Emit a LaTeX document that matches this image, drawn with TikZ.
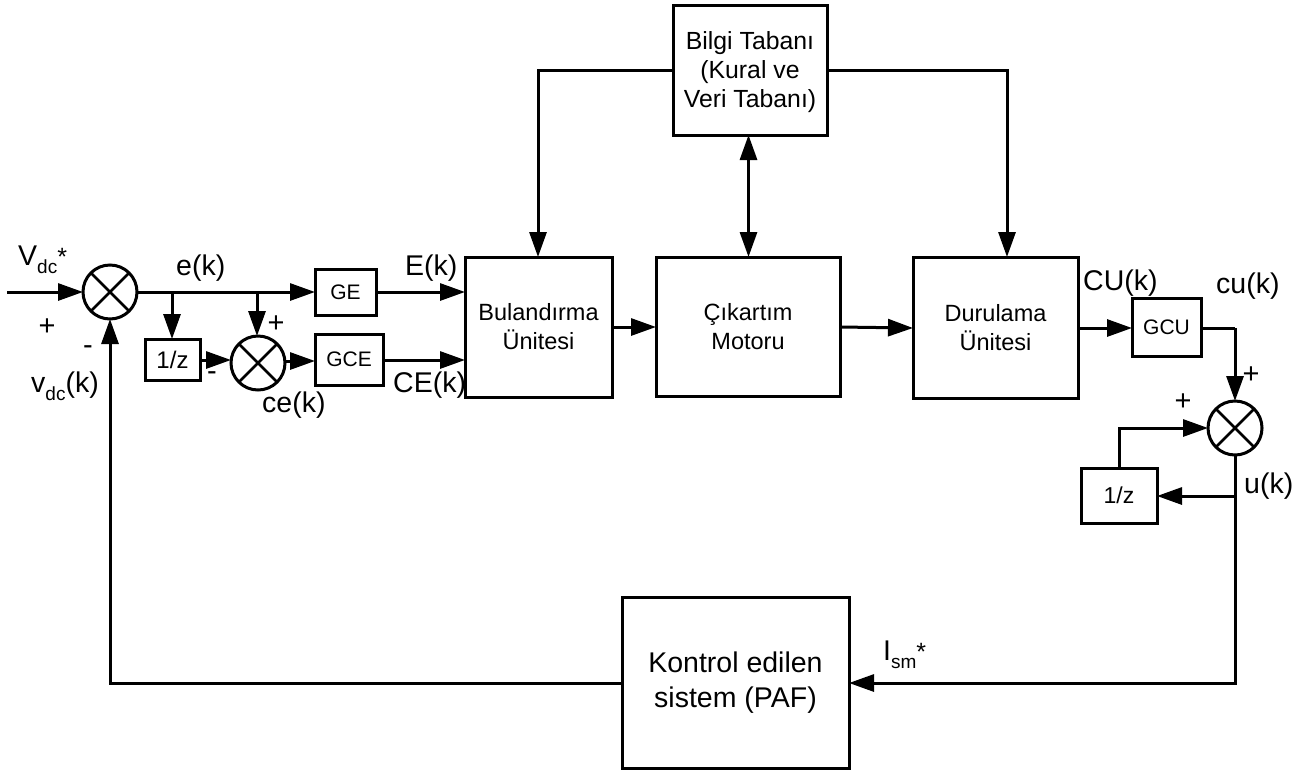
\documentclass[tikz,border=0pt]{standalone}
\usepackage{fontspec}
\setmainfont{Liberation Sans}
\usetikzlibrary{arrows.meta,calc}
\tikzset{
  block/.style={draw,line width=3pt,inner sep=0pt,outer sep=0pt,align=center,font=\fontsize{23.5}{29}\selectfont},
  small/.style={block,font=\fontsize{21}{25}\selectfont},
  sumnode/.style={draw,circle,line width=3pt,minimum size=54pt,inner sep=0pt,outer sep=0pt},
  wire/.style={line width=3pt},
  arrow/.style={wire,-{Triangle[length=25pt,width=17pt]}},
  darrow/.style={wire,{Triangle[length=25pt,width=17pt]}-{Triangle[length=25pt,width=17pt]}},
  lab/.style={inner sep=0pt,font=\fontsize{28.5}{32}\selectfont},
  sign/.style={inner sep=0pt,font=\fontsize{29}{32}\selectfont}
}
\newcommand{\subt}[1]{\raisebox{-8.5pt}{\fontsize{19}{22}\selectfont #1}}
\newcommand{\supstar}{\raisebox{0pt}{\fontsize{25}{26}\selectfont *}}
\newcommand{\dn}[1]{\raisebox{-2pt}[\height][\depth]{#1}}
\newcommand{\boxat}[7][block]{\node[#1,minimum width=#5pt-#3pt,minimum height=#6pt-#4pt] (#2) at ({(#3+#5)/2},{(#4+#6)/2}) {#7};}
\begin{document}
\begin{tikzpicture}[x=1pt,y=-1pt]
\useasboundingbox (0,0) rectangle (1313,769);
\boxat[block,font=\fontsize{24.8}{29}\selectfont]{bilgi}{673}{5}{827}{135}{\dn{Bilgi Tabanı}\\\dn{(Kural ve}\\\dn{Veri Tabanı)}}
\boxat{bul}{465}{257}{612}{397}{Bulandırma\\Ünitesi}
\boxat{cik}{656}{257}{840}{396}{Çıkartım\\Motoru}
\boxat{dur}{913}{257}{1078}{398}{Durulama\\Ünitesi}
\boxat[block,font=\fontsize{28.5}{35}\selectfont]{paf}{622}{597}{849}{768}{Kontrol edilen\\sistem (PAF)}
\boxat[small]{ge}{315}{269}{376}{315}{GE}
\boxat[small]{gce}{315}{334}{383}{385}{GCE}
\boxat[small,font=\fontsize{24}{28}\selectfont]{zl}{145}{339}{200}{380}{1/z}
\boxat[small]{gcu}{1132}{298}{1201}{356}{GCU}
\boxat[small,font=\fontsize{23}{28}\selectfont]{zr}{1081}{468}{1157}{523}{1/z}
\node[sumnode] (s1) at (110,292) {};
\node[sumnode] (s2) at (258,363) {};
\node[sumnode] (s3) at (1235,428) {};
\foreach \s in {s1,s2,s3}{
  \draw[wire,line width=2.6pt] (\s.45) -- (\s.225);
  \draw[wire,line width=2.6pt] (\s.135) -- (\s.315);
}
\coordinate (in) at (7,292);
\coordinate (j1) at (172,292);
\coordinate (j2) at (257,292);
\coordinate (j3) at (1235,328);
\coordinate (j4) at (1235,496);
\coordinate (c1) at (1235,683);
\coordinate (c2) at (110,683);
\coordinate (c3) at (538,70);
\coordinate (c4) at (1007,70);
\draw[arrow] (in) -- (s1.west);
\draw[arrow] (s1.east) -- (ge.west);
\draw[arrow] (j1) -- (j1 |- zl.north);
\draw[arrow] (j2) -- (j2 |- s2.north);
\draw[arrow] (zl.east |- 0,360) -- (s2.west |- 0,360);
\draw[arrow] (s2.east |- 0,361) -- (gce.west |- 0,361);
\draw[arrow] (ge.east) -- (bul.west |- ge.east);
\draw[arrow] (gce.east |- 0,360) -- (bul.west |- 0,360);
\draw[arrow] (bul.east |- 0,327) -- (cik.west |- 0,327);
\draw[arrow] (cik.east |- 0,327) -- (dur.west |- 0,328);
\draw[arrow] (dur.east |- j3) -- (gcu.west |- j3);
\draw[wire] (gcu.east |- j3) -- (j3);
\draw[arrow] (j3) -- (s3.north);
\draw[arrow] (s3.south) -- (c1) -- (paf.east |- c1);
\draw[arrow] (j4) -- (zr.east |- j4);
\draw[arrow] (zr.north) |- (s3.west);
\draw[arrow] (paf.west |- c1) -- (c2) -- (s1.south);
\draw[arrow] (bilgi.west |- c3) -- (c3) -- (c3 |- bul.north);
\draw[arrow] (bilgi.east |- c4) -- (c4) -- (c4 |- dur.north);
\draw[darrow] (bilgi.south -| 748.5,0) -- (cik.north -| 748.5,0);
\node[lab,anchor=base west] (t1) at (18,265) {V\subt{dc}\supstar};
\node[lab,anchor=base west] (t2) at (176,275) {e(k)};
\node[lab,anchor=base west] (t3) at (405,275) {E(k)};
\node[lab,anchor=base west] (t4) at (393,392) {CE(k)};
\node[lab,anchor=base west] (t5) at (31,392) {v\subt{dc}(k)};
\node[lab,anchor=base west] (t6) at (262,412) {ce(k)};
\node[lab,anchor=base west] (t7) at (1083,290) {CU(k)};
\node[lab,anchor=base west] (t8) at (1216,293) {cu(k)};
\node[lab,anchor=base west] (t9) at (1244,493) {u(k)};
\node[lab,anchor=base west] (t10) at (883,660) {I\subt{sm}\supstar};
\node[sign] (p1) at (47,327) {+};
\node[sign] (p2) at (276,324) {+};
\node[sign] (p3) at (1251,375) {+};
\node[sign] (p4) at (1183,402) {+};
\node[sign] (m1) at (88,350) {-};
\node[sign] (m2) at (212,376) {-};
\end{tikzpicture}
\end{document}
